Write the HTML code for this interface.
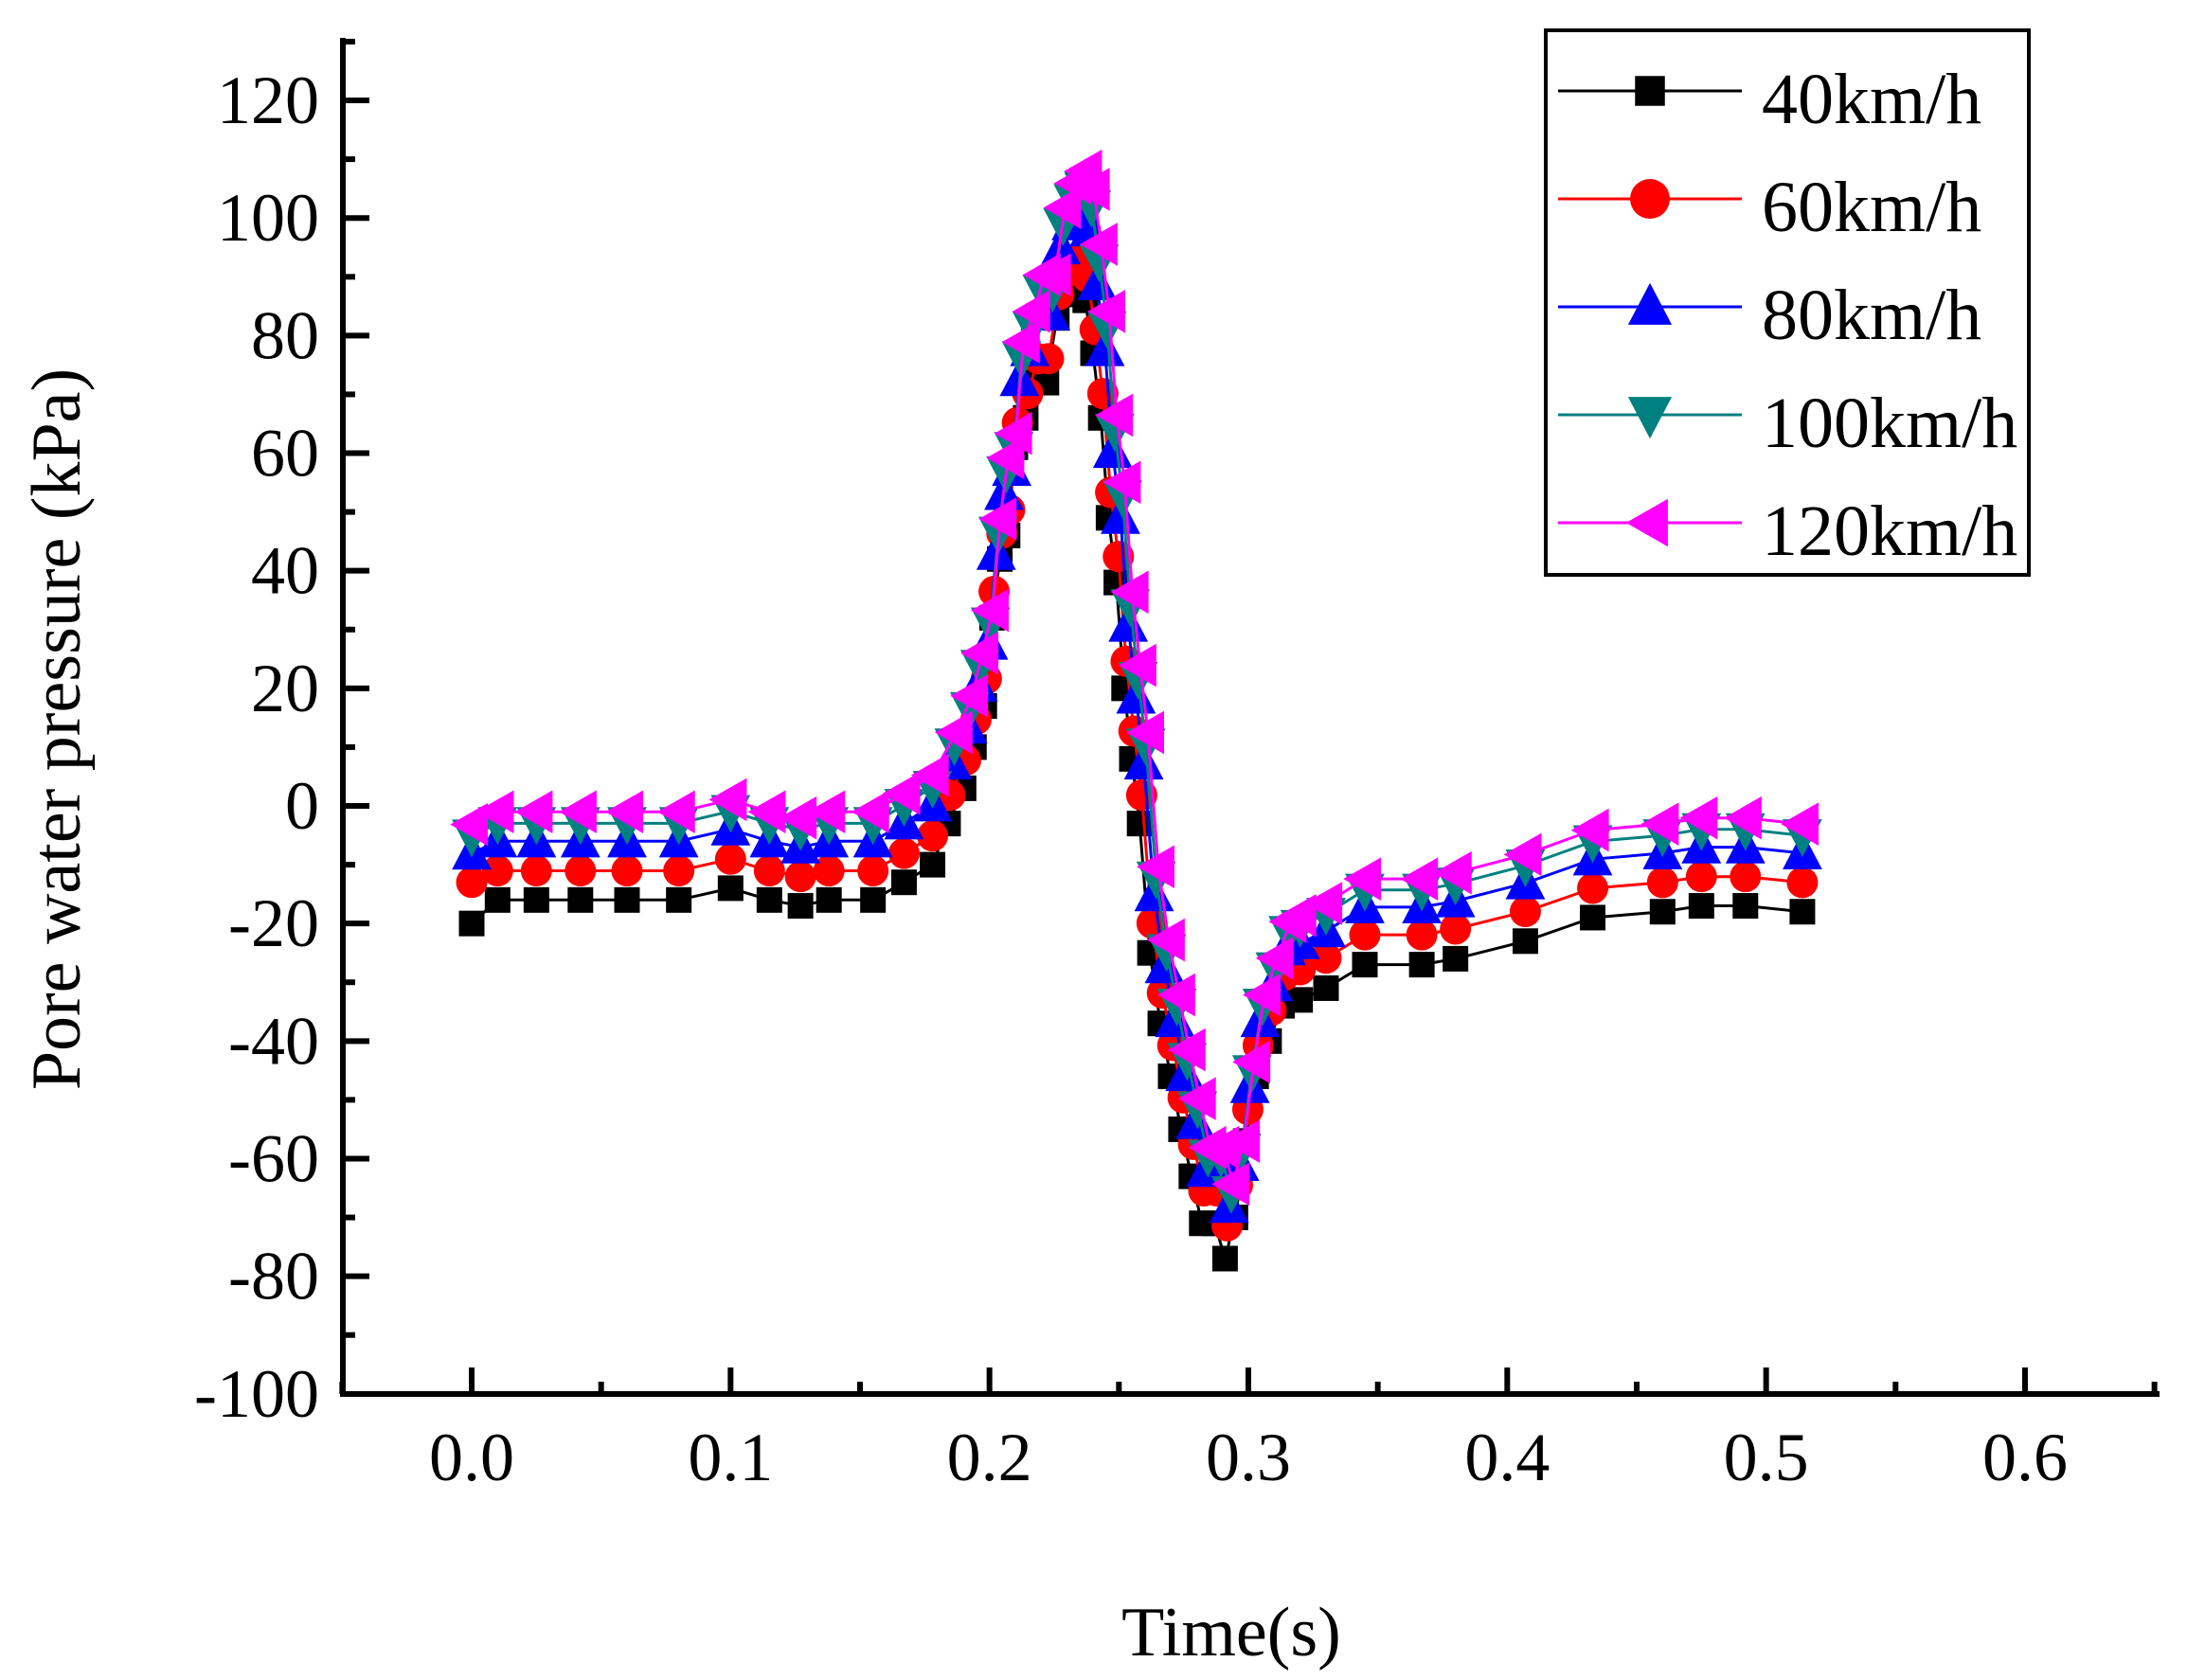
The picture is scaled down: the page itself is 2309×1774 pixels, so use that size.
<!DOCTYPE html>
<html><head><meta charset="utf-8"><style>
html,body{margin:0;padding:0;background:#fff;}
svg{display:block;}
text{font-family:"Liberation Serif",serif;fill:#000;}
</style></head><body>
<svg id="s" width="2309" height="1774" viewBox="0 0 2309 1774" xmlns="http://www.w3.org/2000/svg">
<rect width="2309" height="1774" fill="#fff"/>
<g id="plot"></g>
<g id="axes" stroke="#000" stroke-width="6" fill="none">
<line x1="362" y1="40" x2="362" y2="1475"/>
<line x1="359" y1="1472" x2="2280" y2="1472"/>
</g>
<g id="ticks" stroke="#000" stroke-width="6"></g>
<g id="labels" font-size="72"></g>
<text x="84" y="770" font-size="74" text-anchor="middle" transform="rotate(-90 84 770)">Pore water pressure (kPa)</text>
<text x="1300" y="1748" font-size="74" text-anchor="middle">Time(s)</text>
<g id="legend">
<rect x="1632" y="32" width="510" height="575" fill="#fff" stroke="#000" stroke-width="4"/>
</g>
</svg>
<script>
var NS="http://www.w3.org/2000/svg";
function el(p,n,a,t){var e=document.createElementNS(NS,n);for(var k in a)e.setAttribute(k,a[k]);if(t!==undefined)e.textContent=t;p.appendChild(e);return e;}
function X(t){return 498+t*2733.3;}
function Y(v){return 851-v*6.208;}
var ticks=document.getElementById('ticks'),labels=document.getElementById('labels');
for(var v=-90;v<=130;v+=10){var major=(v%20===0);el(ticks,'line',{x1:362,y1:Y(v),x2:362+(major?28:13),y2:Y(v)});
 if(major&&v<=120) el(labels,'text',{x:337,y:Y(v)+24,'text-anchor':'end'},String(v));}
el(labels,'text',{x:337,y:Y(-100)+24,'text-anchor':'end'},'-100');
for(var i=-1;i<=13;i++){var t=i*0.05;var major=(i%2===0);el(ticks,'line',{x1:X(t),y1:1472,x2:X(t),y2:1472-(major?28:13)});
 if(major&&i>=0) el(labels,'text',{x:X(t),y:1563,'text-anchor':'middle'},t.toFixed(1));}
var T=[0,.01,.025,.042,.06,.08,.1,.115,.127,.138,.155,.167,.178,.184,.19,.194,.198,.201,.204,.207,.21,.214,.218,.222,.226,.23,.234,.237,.24,.243,.246,.249,.252,.255,.258,.262,.266,.27,.274,.278,.282,.287,.291,.295,.299,.303,.308,.313,.32,.33,.345,.367,.38,.407,.433,.46,.475,.492,.514];
var B=[-20,-16,-16,-16,-16,-16,-14,-16,-17,-16,-16,-13,-10,-3,3,10,17,32,42,46,61,66,72,72,83,87,89,86,77,66,49,38,20,8,-3,-25,-37,-46,-55,-63,-71,-71,-77,-70,-57,-46,-40,-34,-33,-31,-27,-27,-26,-23,-19,-18,-17,-17,-18];
var S=[{c:'#000',a:1,b:0,m:'sq'},{c:'#ff0000',a:0.99,b:4.8,m:'ci'},{c:'#0000ff',a:1.019,b:10.3,m:'up'},{c:'#008080',a:1.029,b:13.5,m:'dn'},{c:'#ff00ff',a:1.038,b:15.6,m:'lt'}];
function marker(g,m,x,y,c,s){
 if(m==='sq') el(g,'rect',{x:x-s*0.45,y:y-s*0.45,width:s*0.9,height:s*0.9,fill:c});
 else if(m==='ci') el(g,'circle',{cx:x,cy:y,r:s*0.5,fill:c});
 else if(m==='up') el(g,'polygon',{points:(x)+','+(y-s*0.6)+' '+(x-s*0.55)+','+(y+s*0.45)+' '+(x+s*0.55)+','+(y+s*0.45),fill:c});
 else if(m==='dn') el(g,'polygon',{points:(x)+','+(y+s*0.6)+' '+(x-s*0.55)+','+(y-s*0.45)+' '+(x+s*0.55)+','+(y-s*0.45),fill:c});
 else el(g,'polygon',{points:(x-s*0.6)+','+(y)+' '+(x+s*0.45)+','+(y-s*0.6)+' '+(x+s*0.45)+','+(y+s*0.6),fill:c});
}
var plot=document.getElementById('plot');
S.forEach(function(s,k){var g=el(plot,'g',{});var pts=[];
 var dt=k*0.0008;
 for(var i=0;i<T.length;i++){var v=B[i]*s.a+s.b;if(i===0)v=B[0]*s.a+s.b+ (k>0?2:0);pts.push([X(T[i]+(T[i]>0.18&&T[i]<0.32?dt:0)),Y(v)]);}
 el(g,'polyline',{points:pts.map(function(p){return p[0].toFixed(1)+','+p[1].toFixed(1)}).join(' '),fill:'none',stroke:s.c,'stroke-width':3});
 pts.forEach(function(p){marker(g,s.m,p[0],p[1],s.c,k===0?30:(k===1?33:38));});
});
var lg=document.getElementById('legend');var names=['40km/h','60km/h','80km/h','100km/h','120km/h'];
S.forEach(function(s,k){var y=96+k*114;el(lg,'line',{x1:1645,y1:y,x2:1839,y2:y,stroke:s.c,'stroke-width':3});
 marker(lg,s.m,1742,y,s.c,k===0?35:42);
 el(lg,'text',{x:1860,y:y+34,'font-size':76},names[k]);});
</script>
</body></html>
